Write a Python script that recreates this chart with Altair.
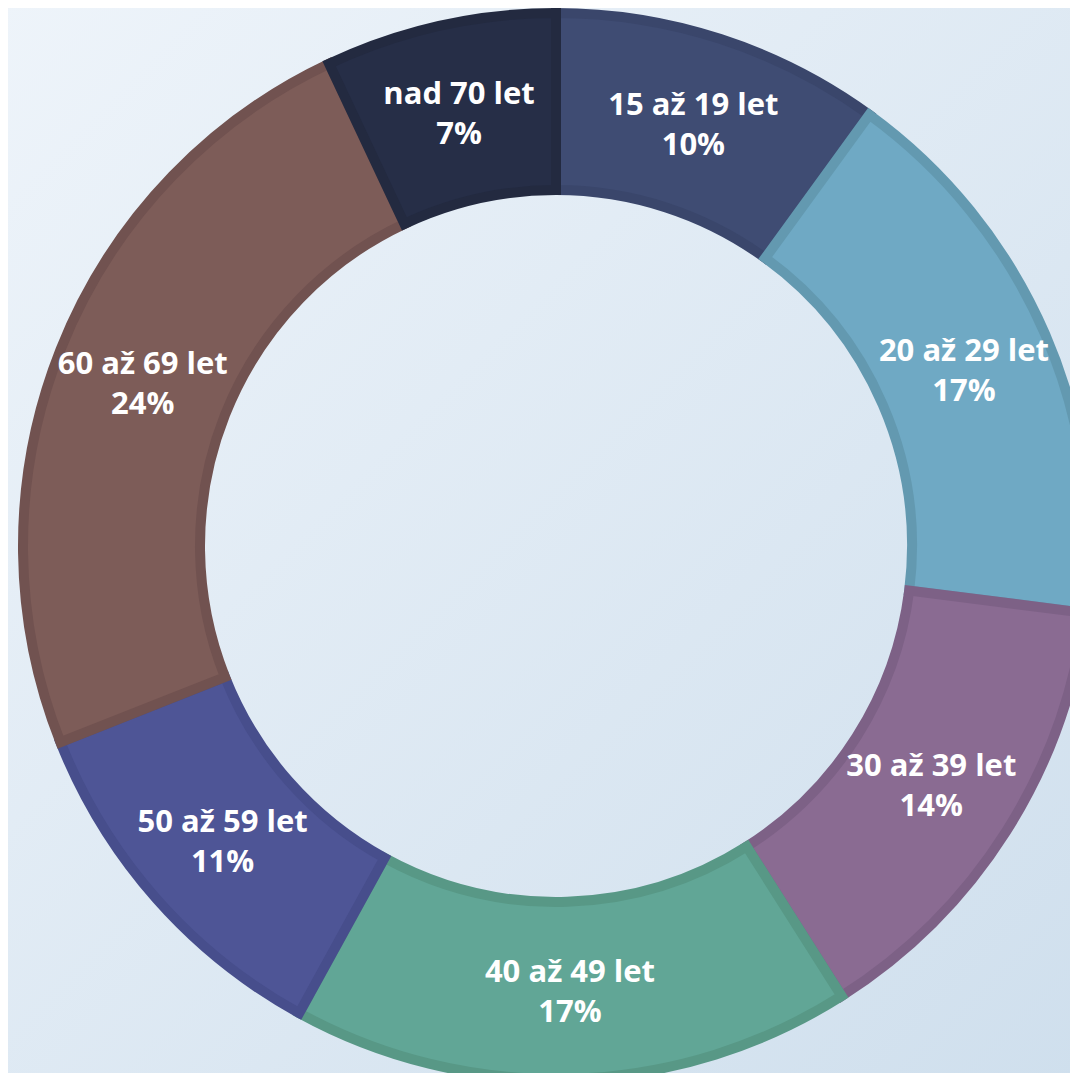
import altair as alt
import pandas as pd

categories = ["15 až 19 let", "20 až 29 let", "30 až 39 let", "40 až 49 let",
              "50 až 59 let", "60 až 69 let", "nad 70 let"]
shares = [10, 17, 14, 17, 11, 24, 7]
fills = ["#3f4c73", "#6fa9c4", "#8a6b92", "#61a696", "#4e5596", "#7d5c58", "#262e47"]
strokes = ["#3a466b", "#6399b0", "#7d6186", "#589886", "#474e8c", "#715250", "#232a40"]

df = pd.DataFrame({
    "kat": categories,
    "podil": shares,
    "idx": list(range(len(categories))),
    "popis": [f"{c}\n{s}%" for c, s in zip(categories, shares)],
    "okraj": strokes,
})

W, H = 1062, 1065
CX, CY = 548, 538
R_OUT, R_IN = 538, 351
SW = 10

bg = alt.Chart(alt.Data(values=[{"a": 1}])).mark_rect(
    fill=alt.Gradient(
        gradient="linear",
        stops=[alt.GradientStop(color="#eef4fa", offset=0),
               alt.GradientStop(color="#cfdfed", offset=1)],
        x1=0, y1=0, x2=1, y2=1,
    )
).encode(x=alt.value(-10), x2=alt.value(W + 10), y=alt.value(-10), y2=alt.value(H + 10))

base = alt.Chart(df).encode(
    theta=alt.Theta("podil:Q", stack=True),
    order=alt.Order("idx:Q"),
)

arcs = base.mark_arc(
    radius=R_OUT - SW / 2, radius2=R_IN + SW / 2, strokeWidth=SW
).encode(
    x=alt.value(CX), y=alt.value(CY),
    color=alt.Color("kat:N", scale=alt.Scale(domain=categories, range=fills), legend=None),
    stroke=alt.Stroke("okraj:N", scale=None),
)

labels = base.mark_text(
    radius=(R_OUT + R_IN) / 2, font="Open Sans", fontWeight="bold", fontSize=31,
    color="white", lineBreak="\n", lineHeight=40, align="center", baseline="middle",
    dy=-17,
).encode(
    x=alt.value(CX), y=alt.value(CY),
    text="popis:N",
)

chart = alt.layer(bg, arcs, labels).properties(
    width=W, height=H, padding=0, autosize=alt.AutoSizeParams(type="none")
).configure_view(stroke=None).configure(background="#eef4fa")

chart.save("out.html", embed_options={"renderer": "svg", "actions": False})
